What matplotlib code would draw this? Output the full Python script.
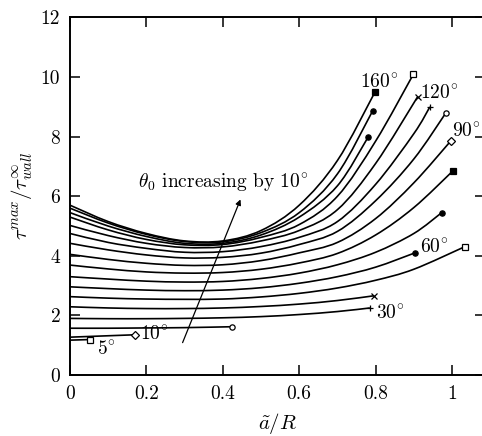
import matplotlib
matplotlib.use("Agg")
import matplotlib.pyplot as plt
from matplotlib.path import Path
from matplotlib.patches import PathPatch
import numpy as np

plt.rcParams['font.family'] = 'serif'
plt.rcParams['font.serif'] = ['cmr10']
plt.rcParams['mathtext.fontset'] = 'cm'
plt.rcParams['axes.formatter.use_mathtext'] = True

# theta_0 values (degrees) and curves: x = a~/R, y = tau_max / tau_wall_inf
theta = [5, 10, 20, 30, 40, 50, 60, 70, 80, 90, 100, 110, 120, 130, 140, 150, 160]

x_5 = [0.0, 0.052]
y_5 = [1.17, 1.19]
x_10 = [0.0, 0.17]
y_10 = [1.27, 1.35]
x_20 = [0.0, 0.1, 0.2, 0.3, 0.423]
y_20 = [1.57, 1.57, 1.58, 1.59, 1.62]
x_30 = [0.0, 0.1, 0.2, 0.3, 0.4, 0.5, 0.6, 0.7, 0.785]
y_30 = [1.90, 1.89, 1.89, 1.90, 1.92, 1.96, 2.03, 2.13, 2.25]
x_40 = [0.0, 0.1, 0.2, 0.3, 0.4, 0.5, 0.6, 0.7, 0.796]
y_40 = [2.29, 2.25, 2.23, 2.23, 2.25, 2.30, 2.38, 2.50, 2.66]
x_50 = [0.0, 0.1, 0.2, 0.3, 0.4, 0.5, 0.6, 0.7, 0.8, 0.9, 1.034]
y_50 = [2.63, 2.58, 2.55, 2.54, 2.55, 2.62, 2.74, 2.92, 3.18, 3.55, 4.31]
x_60 = [0.0, 0.1, 0.2, 0.3, 0.4, 0.5, 0.6, 0.7, 0.8, 0.903]
y_60 = [2.96, 2.90, 2.85, 2.83, 2.85, 2.93, 3.08, 3.30, 3.62, 4.10]
x_70 = [0.0, 0.1, 0.2, 0.3, 0.4, 0.5, 0.6, 0.7, 0.8, 0.9, 0.973]
y_70 = [3.30, 3.22, 3.15, 3.12, 3.14, 3.24, 3.42, 3.70, 4.12, 4.75, 5.45]
x_80 = [0.0, 0.1, 0.2, 0.3, 0.4, 0.5, 0.6, 0.7, 0.8, 0.9, 1.003]
y_80 = [3.69, 3.56, 3.46, 3.42, 3.44, 3.55, 3.76, 4.08, 4.70, 5.62, 6.86]
x_90 = [0.0, 0.1, 0.2, 0.3, 0.4, 0.5, 0.6, 0.7, 0.8, 0.9, 0.997]
y_90 = [4.05, 3.88, 3.75, 3.68, 3.70, 3.84, 4.10, 4.45, 5.25, 6.45, 7.86]
x_100 = [0.0, 0.1, 0.2, 0.3, 0.4, 0.5, 0.6, 0.7, 0.8, 0.9, 0.984]
y_100 = [4.42, 4.20, 4.03, 3.93, 3.95, 4.09, 4.38, 4.82, 5.85, 7.25, 8.80]
x_110 = [0.0, 0.1, 0.2, 0.3, 0.4, 0.5, 0.6, 0.7, 0.8, 0.9, 0.942]
y_110 = [4.75, 4.45, 4.25, 4.12, 4.14, 4.31, 4.62, 5.15, 6.40, 8.10, 9.00]
x_120 = [0.0, 0.1, 0.2, 0.3, 0.4, 0.5, 0.6, 0.7, 0.8, 0.91]
y_120 = [5.02, 4.68, 4.42, 4.28, 4.30, 4.50, 4.85, 5.55, 7.10, 9.34]
x_130 = [0.0, 0.1, 0.2, 0.3, 0.4, 0.5, 0.6, 0.7, 0.8, 0.899]
y_130 = [5.30, 4.87, 4.55, 4.37, 4.38, 4.62, 5.05, 6.00, 7.85, 10.10]
x_140 = [0.0, 0.1, 0.2, 0.3, 0.4, 0.5, 0.6, 0.7, 0.781]
y_140 = [5.45, 5.00, 4.65, 4.42, 4.42, 4.70, 5.30, 6.35, 8.00]
x_150 = [0.0, 0.1, 0.2, 0.3, 0.4, 0.5, 0.6, 0.7, 0.792]
y_150 = [5.60, 5.10, 4.72, 4.48, 4.47, 4.78, 5.45, 6.75, 8.86]
x_160 = [0.0, 0.1, 0.2, 0.3, 0.4, 0.5, 0.6, 0.7, 0.798]
y_160 = [5.70, 5.15, 4.75, 4.50, 4.50, 4.85, 5.70, 7.20, 9.49]

xs = [x_5, x_10, x_20, x_30, x_40, x_50, x_60, x_70, x_80, x_90,
      x_100, x_110, x_120, x_130, x_140, x_150, x_160]
ys = [y_5, y_10, y_20, y_30, y_40, y_50, y_60, y_70, y_80, y_90,
      y_100, y_110, y_120, y_130, y_140, y_150, y_160]

# end markers: (marker, filled)
markers = [('s', False), ('D', False), ('o', False), ('+', False), ('x', False),
           ('s', False), ('o', True), ('o', True), ('s', True), ('D', False),
           ('o', False), ('+', False), ('x', False), ('s', False), ('o', True),
           ('o', True), ('s', True)]

xticks = [0, 0.2, 0.4, 0.6, 0.8, 1]
xtick_labels = ['0', '0.2', '0.4', '0.6', '0.8', '1']
yticks = [0, 2, 4, 6, 8, 10, 12]
ytick_labels = ['0', '2', '4', '6', '8', '10', '12']


def smooth_path(x, y):
    """Catmull-Rom style cubic Bezier path through the given points."""
    p = np.column_stack([x, y]).astype(float)
    n = len(p)
    verts = [p[0]]
    codes = [Path.MOVETO]
    if n == 2:
        verts.append(p[1])
        codes.append(Path.LINETO)
        return Path(verts, codes)
    for i in range(n - 1):
        p0 = p[i - 1] if i > 0 else p[i]
        p1 = p[i]
        p2 = p[i + 1]
        p3 = p[i + 2] if i + 2 < n else p[i + 1]
        c1 = p1 + (p2 - p0) / 6.0
        c2 = p2 - (p3 - p1) / 6.0
        verts += [c1, c2, p2]
        codes += [Path.CURVE4] * 3
    return Path(verts, codes)


fig = plt.figure(figsize=(4.82, 4.36), dpi=100)
ax = fig.add_axes([70 / 482, 61 / 436, 414.5 / 482, 357.5 / 436])

for x, y, (m, filled) in zip(xs, ys, markers):
    ax.add_patch(PathPatch(smooth_path(x, y), facecolor='none',
                           edgecolor='black', lw=1.2))
    ms = 4.5 if m in ('+', 'x') else 3.8
    ax.plot([x[-1]], [y[-1]], linestyle='none', marker=m, ms=ms,
            mec='black', mfc='black' if filled else 'white', mew=0.9)

ax.set_xlim(0, 1.085)
ax.set_ylim(0, 12)
ax.set_xticks(xticks)
ax.set_xticklabels(xtick_labels)
ax.set_yticks(yticks)
ax.set_yticklabels(ytick_labels)
ax.tick_params(direction='in', length=7, width=1.1, top=True, right=True,
               labelsize=14, pad=7)
for s in ax.spines.values():
    s.set_linewidth(1.4)

ax.set_xlabel(r'$\tilde{a}/R$', fontsize=15, labelpad=6)
ax.set_ylabel(r'$\tau^{max}/\tau^{\infty}_{wall}$', fontsize=15, labelpad=4)

lbl = dict(fontsize=14, color='black')
ax.text(0.76, 9.83, r'$160^{\circ}$', va='center', ha='left', **lbl)
ax.text(0.916, 9.46, r'$120^{\circ}$', va='center', ha='left', **lbl)
ax.text(1.0, 8.16, r'$90^{\circ}$', va='center', ha='left', **lbl)
ax.text(0.915, 4.26, r'$60^{\circ}$', va='center', ha='left', **lbl)
ax.text(0.80, 2.05, r'$30^{\circ}$', va='center', ha='left', **lbl)
ax.text(0.183, 1.35, r'$10^{\circ}$', va='center', ha='left', **lbl)
ax.text(0.071, 0.84, r'$5^{\circ}$', va='center', ha='left', **lbl)

ax.text(0.178, 6.44, r'$\theta_0$ increasing by $10^{\circ}$', va='center',
        ha='left', fontsize=14)
ax.annotate('', xy=(0.449, 5.98), xytext=(0.292, 1.0),
            arrowprops=dict(arrowstyle='-|>', color='black', lw=0.9,
                            mutation_scale=8))

fig.savefig('out.png', dpi=100)
